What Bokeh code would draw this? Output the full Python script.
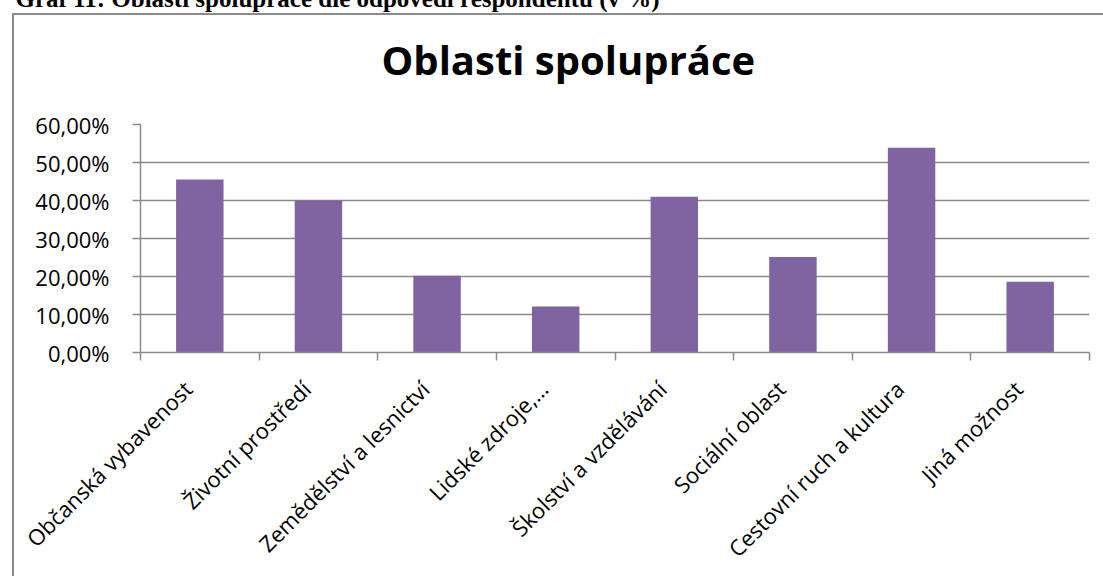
import math
from bokeh.plotting import figure
from bokeh.models import Range1d, FixedTicker, CustomJSTickFormatter, Label
from bokeh.embed import file_html
from bokeh.resources import INLINE

caption = "Graf 11: Oblasti spolupráce dle odpovědí respondentů (v %)"
title = "Oblasti spolupráce"
categories = [
    "Občanská vybavenost",
    "Životní prostředí",
    "Zemědělství a lesnictví",
    "Lidské zdroje,…",
    "Školství a vzdělávání",
    "Sociální oblast",
    "Cestovní ruch a kultura",
    "Jiná možnost",
]
shares = [0.455, 0.400, 0.202, 0.121, 0.410, 0.251, 0.539, 0.186]
y_ticks = [0.0, 0.1, 0.2, 0.3, 0.4, 0.5, 0.6]

FONT = "Open Sans"
GRAY = "#8a8a8a"
PURPLE = "#8064A2"

n = len(categories)
centers = [i + 0.5 for i in range(n)]
bounds = [float(i) for i in range(n + 1)]

# chart-area frame (left and top edges) drawn as CSS background lines
frame_css = {
    "background-color": "white",
    "background-image": f"linear-gradient({GRAY},{GRAY}), linear-gradient({GRAY},{GRAY})",
    "background-size": "2px 100%, 100% 2px",
    "background-position": "12px 13px, 12px 13px",
    "background-repeat": "no-repeat",
}

p = figure(
    width=1103, height=576,
    x_range=Range1d(0, n), y_range=Range1d(0, y_ticks[-1]),
    output_backend="svg", toolbar_location=None,
    min_border_left=140, min_border_right=14,
    min_border_top=124, min_border_bottom=224,
    styles=frame_css,
)
p.title.visible = False
p.outline_line_color = None
p.background_fill_color = "white"
p.border_fill_color = None

p.vbar(x=centers, top=shares, width=0.4, fill_color=PURPLE, line_color=None)

p.xgrid.visible = False
p.ygrid.ticker = FixedTicker(ticks=y_ticks)
p.ygrid.grid_line_color = GRAY
p.ygrid.grid_line_width = 1.5

pad = "\u00a0" * 3
xa = p.xaxis[0]
xa.ticker = FixedTicker(ticks=centers, minor_ticks=bounds)
xa.major_label_overrides = {c: lab + pad for c, lab in zip(centers, categories)}
xa.major_label_orientation = math.pi / 4
xa.major_tick_out = 0
xa.major_tick_in = 0
xa.minor_tick_out = 8
xa.minor_tick_in = 0
xa.minor_tick_line_color = GRAY
xa.minor_tick_line_width = 1.5
xa.axis_line_color = GRAY
xa.axis_line_width = 1.5
xa.major_label_text_font = FONT
xa.major_label_text_font_size = "22px"
xa.major_label_text_color = "black"
xa.major_label_standoff = 12

ya = p.yaxis[0]
ya.ticker = FixedTicker(ticks=y_ticks)
ya.formatter = CustomJSTickFormatter(code="return (tick*100).toFixed(2).replace('.', ',') + '%';")
ya.major_tick_out = 8
ya.major_tick_in = 0
ya.minor_tick_out = 0
ya.minor_tick_in = 0
ya.major_tick_line_color = GRAY
ya.major_tick_line_width = 1.5
ya.axis_line_color = GRAY
ya.axis_line_width = 1.5
ya.major_label_text_font = FONT
ya.major_label_text_font_size = "22px"
ya.major_label_text_color = "black"
ya.major_label_standoff = 23

# texts placed in the top panel (not clipped to the plot frame)
title_lbl = Label(x=381, y=58.5, x_units="canvas", y_units="canvas", text=title,
                  text_font=FONT, text_font_style="bold", text_font_size="40px",
                  text_color="black", text_baseline="alphabetic")
cap_lbl = Label(x=15, y=-2.5, x_units="canvas", y_units="canvas", text=caption,
                text_font="Liberation Serif", text_font_style="bold",
                text_font_size="25px", text_color="black", text_baseline="alphabetic")
p.add_layout(title_lbl, "above")
p.add_layout(cap_lbl, "above")

open("out.html", "w").write(file_html(p, INLINE))
